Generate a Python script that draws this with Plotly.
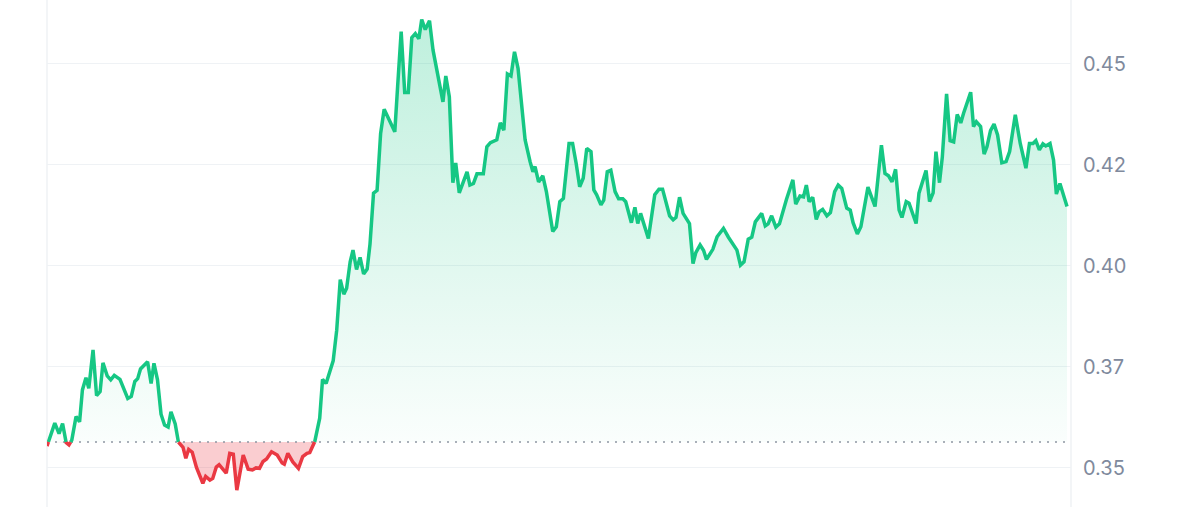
import plotly.graph_objects as go

# time in minutes since start of the 24h window
minutes = [0,11,17,22,27,31,35,41,46,50,
           55,59,65,70,75,79,85,90,95,103,
           114,119,124,128,132,142,147,151,156,161,
           166,171,175,181,185,192,196,200,205,211,
           220,224,230,234,239,243,253,258,263,268,
           277,284,290,295,300,305,310,317,325,332,
           335,340,347,355,361,367,371,378,385,389,
           394,400,404,409,414,419,423,428,432,437,
           442,447,452,456,461,466,471,476,483,487,
           491,495,500,505,510,515,520,525,529,534,
           540,545,552,559,563,568,573,577,582,588,
           593,597,602,607,616,621,626,635,640,645,
           650,655,660,665,675,682,686,689,694,700,
           705,714,719,724,729,737,742,747,752,757,
           762,768,772,776,782,786,791,796,802,807,
           813,817,825,830,834,838,843,849,858,864,
           869,879,884,888,893,898,907,912,916,922,
           927,931,940,946,955,962,974,979,984,990,
           995,1000,1009,1014,1018,1023,1029,1034,1044,1053,
           1057,1063,1068,1072,1076,1081,1086,1090,1095,1101,
           1106,1112,1117,1122,1129,1134,1138,1144,1149,1159,
           1164,1169,1178,1183,1188,1193,1198,1203,1207,1213,
           1217,1227,1231,1241,1246,1251,1255,1260,1264,1270,
           1275,1280,1285,1290,1294,1304,1308,1312,1318,1323,
           1327,1332,1337,1342,1348,1354,1359,1367,1374,1382,
           1387,1392,1396,1401,1406,1410,1416,1421,1425,1430,
           1440]

prices = [0.3553,0.3610,0.3584,0.3609,0.3562,0.3556,0.3568,0.3626,0.3613,0.3692,
          0.3722,0.3696,0.3791,0.3678,0.3688,0.3759,0.3727,0.3717,0.3728,0.3718,
          0.3671,0.3676,0.3713,0.3720,0.3744,0.3762,0.3708,0.3758,0.3717,0.3632,
          0.3605,0.3600,0.3638,0.3608,0.3564,0.3550,0.3523,0.3545,0.3538,0.3500,
          0.3461,0.3478,0.3469,0.3473,0.3501,0.3507,0.3486,0.3535,0.3533,0.3444,
          0.3531,0.3496,0.3494,0.3499,0.3498,0.3515,0.3521,0.3539,0.3531,0.3511,
          0.3508,0.3535,0.3514,0.3498,0.3527,0.3535,0.3537,0.3564,0.3622,0.3718,
          0.3708,0.3746,0.3764,0.3840,0.3965,0.3929,0.3944,0.4009,0.4038,0.3990,
          0.4020,0.3979,0.3991,0.4053,0.4179,0.4186,0.4327,0.4387,0.4360,0.4343,
          0.4331,0.4443,0.4579,0.4428,0.4428,0.4564,0.4574,0.4561,0.4609,0.4584,
          0.4606,0.4533,0.4463,0.4405,0.4469,0.4418,0.4205,0.4254,0.4180,0.4212,
          0.4232,0.4199,0.4203,0.4227,0.4227,0.4294,0.4304,0.4311,0.4353,0.4335,
          0.4474,0.4469,0.4529,0.4488,0.4311,0.4257,0.4232,0.4245,0.4207,0.4222,
          0.4183,0.4084,0.4096,0.4158,0.4166,0.4302,0.4302,0.4253,0.4195,0.4216,
          0.4290,0.4282,0.4187,0.4175,0.4150,0.4162,0.4232,0.4236,0.4183,0.4165,
          0.4165,0.4158,0.4106,0.4144,0.4104,0.4129,0.4100,0.4067,0.4175,0.4189,
          0.4189,0.4123,0.4113,0.4119,0.4169,0.4129,0.4104,0.4005,0.4032,0.4051,
          0.4037,0.4015,0.4040,0.4071,0.4092,0.4070,0.4038,0.4001,0.4009,0.4065,
          0.4070,0.4108,0.4129,0.4098,0.4103,0.4123,0.4095,0.4103,0.4164,0.4212,
          0.4152,0.4172,0.4170,0.4199,0.4158,0.4169,0.4114,0.4133,0.4139,0.4123,
          0.4131,0.4183,0.4199,0.4191,0.4142,0.4137,0.4106,0.4078,0.4096,0.4194,
          0.4170,0.4146,0.4298,0.4228,0.4222,0.4207,0.4238,0.4137,0.4119,0.4158,
          0.4154,0.4104,0.4179,0.4235,0.4158,0.4180,0.4282,0.4205,0.4269,0.4425,
          0.4309,0.4306,0.4374,0.4353,0.4377,0.4429,0.4344,0.4356,0.4344,0.4276,
          0.4294,0.4334,0.4350,0.4323,0.4254,0.4257,0.4282,0.4373,0.4302,0.4241,
          0.4302,0.4302,0.4309,0.4286,0.4301,0.4296,0.4302,0.4261,0.4177,0.4203,
          0.4146]

baseline = 0.3563  # reference (opening) price
tick_values = [0.35, 0.375, 0.40, 0.425, 0.45]
tick_labels = ["0.35", "0.37", "0.40", "0.42", "0.45"]

GREEN = "#16C784"
RED = "#EA3943"
GRID = "#EFF2F5"

# split the series at baseline crossings so the two colours meet on the baseline
xs, ys = [], []
for i in range(len(minutes)):
    if i > 0:
        a = prices[i - 1] - baseline
        b = prices[i] - baseline
        if a * b < 0:
            f = a / (a - b)
            xs.append(minutes[i - 1] + f * (minutes[i] - minutes[i - 1]))
            ys.append(baseline)
    xs.append(minutes[i])
    ys.append(prices[i])

up = [max(v, baseline) for v in ys]
down = [min(v, baseline) for v in ys]
green_line = [v if v >= baseline else None for v in ys]
red_line = [v if v <= baseline else None for v in ys]
base_y = [baseline] * len(xs)

fig = go.Figure()
fig.add_trace(go.Scatter(x=xs, y=base_y, mode="lines", line=dict(width=0),
                         showlegend=False, hoverinfo="skip"))
fig.add_trace(go.Scatter(
    x=xs, y=up, mode="lines", line=dict(width=0), fill="tonexty",
    fillgradient=dict(type="vertical", start=baseline, stop=0.462,
                      colorscale=[[0, "rgba(22,199,132,0.02)"],
                                  [1, "rgba(22,199,132,0.28)"]]),
    showlegend=False, hoverinfo="skip"))
fig.add_trace(go.Scatter(x=xs, y=base_y, mode="lines", line=dict(width=0),
                         showlegend=False, hoverinfo="skip"))
fig.add_trace(go.Scatter(x=xs, y=down, mode="lines", line=dict(width=0),
                         fill="tonexty", fillcolor="rgba(234,57,67,0.25)",
                         showlegend=False, hoverinfo="skip"))
fig.add_trace(go.Scatter(x=[minutes[0], minutes[-1]], y=[baseline, baseline],
                         mode="lines", line=dict(color="#8F96A3", width=1.6, dash="2px,6px"),
                         showlegend=False, hoverinfo="skip"))
fig.add_trace(go.Scatter(x=xs, y=green_line, mode="lines",
                         line=dict(color=GREEN, width=3.5), connectgaps=False,
                         showlegend=False))
fig.add_trace(go.Scatter(x=xs, y=red_line, mode="lines",
                         line=dict(color=RED, width=3.5), connectgaps=False,
                         showlegend=False))

fig.update_layout(
    width=1200, height=507,
    margin=dict(l=47, r=129, t=0, b=0),
    paper_bgcolor="white", plot_bgcolor="white",
    showlegend=False,
    xaxis=dict(range=[0, 1440 * 1024 / 1020], showgrid=False, zeroline=False,
               showticklabels=False, showline=False, fixedrange=True),
    yaxis=dict(range=[0.340225, 0.465718], side="right",
               tickvals=tick_values, ticktext=tick_labels,
               showgrid=True, gridcolor=GRID, gridwidth=1.2,
               zeroline=False, showline=False, ticks="",
               ticklabelstandoff=11,
               tickfont=dict(family="Inter", size=20, color="#808A9D")),
    shapes=[
        dict(type="line", xref="paper", yref="paper", x0=0, x1=0, y0=0, y1=1,
             line=dict(color=GRID, width=1.5), layer="below"),
        dict(type="line", xref="paper", yref="paper", x0=1, x1=1, y0=0, y1=1,
             line=dict(color=GRID, width=1.5), layer="below"),
    ],
)

fig.write_html("out.html", config={"displayModeBar": False},
               post_script="document.body.style.margin='0px';")
